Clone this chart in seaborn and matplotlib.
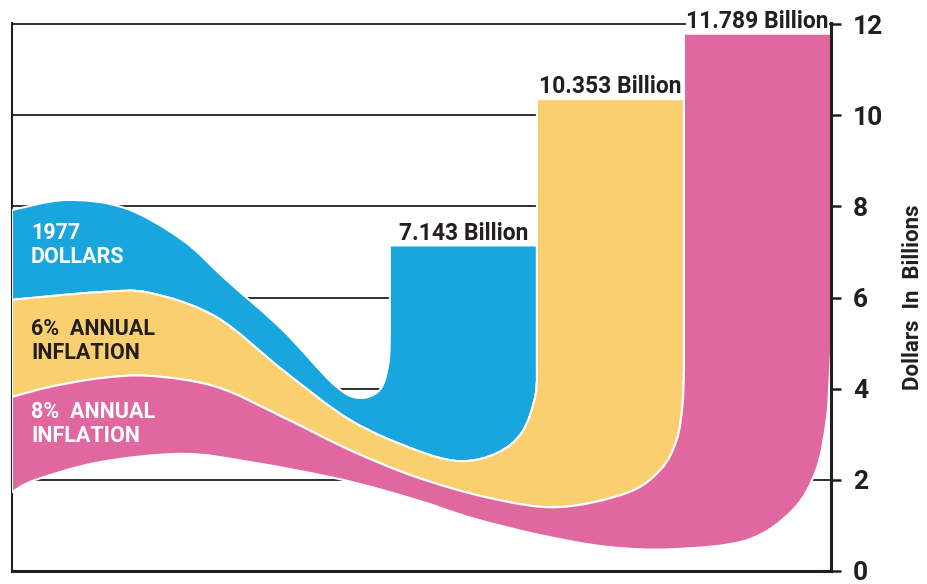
import numpy as np
import pandas as pd
import matplotlib.pyplot as plt
import seaborn as sns
from matplotlib.path import Path
from matplotlib.patches import PathPatch

# Bar data
scenarios = ["1977 DOLLARS", "6% ANNUAL INFLATION", "8% ANNUAL INFLATION"]
values = [7.143, 10.353, 11.789]
value_labels = ["7.143 Billion", "10.353 Billion", "11.789 Billion"]
band_labels = ["1977\nDOLLARS", "6%  ANNUAL\nINFLATION", "8%  ANNUAL\nINFLATION"]
colors = ["#19a5de", "#f9cf6f", "#e0679f"]
label_colors = ["white", "#231f20", "white"]
yticks = [0, 2, 4, 6, 8, 10, 12]

# Decorative ribbon outlines (x in bar units, y in billions), left to right
blue_top = [[-3.07, 7.92], [-2.70, 8.14], [-2.30, 7.96], [-1.91, 7.26], [-1.61, 6.38],
            [-1.23, 5.29], [-0.89, 4.12], [-0.72, 3.80], [-0.57, 3.97], [-0.51, 4.56],
            [-0.50, 5.29]]
blue_yellow = [[-3.07, 5.95], [-2.47, 6.12], [-2.13, 6.10], [-1.68, 5.57], [-1.23, 4.41],
               [-0.77, 3.31], [-0.32, 2.65], [-0.02, 2.41], [0.23, 2.59], [0.40, 3.05],
               [0.49, 3.86], [0.50, 4.63]]
yellow_pink = [[-3.07, 3.82], [-2.81, 4.04], [-2.47, 4.23], [-2.13, 4.28], [-1.68, 4.04],
               [-1.23, 3.38], [-0.77, 2.65], [-0.32, 2.06], [0.18, 1.60], [0.64, 1.40],
               [1.11, 1.71], [1.34, 2.22], [1.45, 2.87], [1.49, 3.64], [1.50, 4.41]]
pink_bottom = [[-3.07, 1.73], [-2.91, 2.00], [-2.47, 2.39], [-1.91, 2.57], [-1.45, 2.39],
               [-0.82, 2.00], [-0.32, 1.56], [0.06, 1.16], [0.52, 0.79], [0.98, 0.53],
               [1.43, 0.48], [1.93, 0.68], [2.24, 1.34], [2.40, 2.22], [2.47, 3.31],
               [2.49, 4.19], [2.50, 4.85]]
edges = [blue_top, blue_yellow, yellow_pink, pink_bottom]
label_pos = [(-2.94, 7.15), (-2.94, 5.05), (-2.94, 3.23)]


def smooth(pts):
    # Catmull-Rom through the points, as cubic bezier segments
    p = np.asarray(pts, float)
    ext = np.vstack([p[0], p, p[-1]])
    verts, codes = [], []
    for i in range(len(p) - 1):
        a, b, c, d = ext[i], ext[i + 1], ext[i + 2], ext[i + 3]
        verts += [b + (c - a) / 6, c - (d - b) / 6, c]
        codes += [Path.CURVE4] * 3
    return verts, codes


def band_path(top, bottom, x0, x1, h):
    verts, codes = [top[0]], [Path.MOVETO]
    v, c = smooth(top)
    verts += v
    codes += c
    verts += [(x0, h), (x1, h), (x1, bottom[-1][1])]
    codes += [Path.LINETO] * 3
    v, c = smooth(bottom[::-1])
    verts += v
    codes += c
    verts.append(top[0])
    codes.append(Path.CLOSEPOLY)
    return Path(verts, codes)


sns.set_style("white")
plt.rcParams["font.family"] = ["Roboto", "DejaVu Sans"]
plt.rcParams["font.weight"] = "bold"

df = pd.DataFrame({"scenario": scenarios, "value": values})

fig = plt.figure(figsize=(9.28, 5.84), dpi=100)
ax = fig.add_axes([12 / 928, 13 / 584, 819 / 928, 548.3 / 584])

sns.barplot(data=df, x="scenario", y="value", hue="scenario", palette=colors,
            width=1.0, saturation=1, legend=False, ax=ax,
            edgecolor="white", linewidth=1.5)

bars = sorted(ax.patches, key=lambda p: p.get_x())
for i, bar in enumerate(bars):
    x0 = bar.get_x()
    x1 = x0 + bar.get_width()
    h = bar.get_height()
    band = PathPatch(band_path(edges[i], edges[i + 1], x0, x1, h),
                     facecolor=colors[i], edgecolor="white", lw=1.5, zorder=2 + i * 0.01)
    ax.add_patch(band)
    bar.set_clip_path(band)
    bar.set_zorder(2)
    tx, ty = label_pos[i]
    ax.text(tx, ty, band_labels[i], color=label_colors[i], fontsize=15.5,
            fontweight="bold", ha="left", va="center", linespacing=1.15, zorder=3)

for i, cont in enumerate(ax.containers):
    txts = ax.bar_label(cont, labels=[value_labels[i]], padding=0.5, fontsize=16.5,
                        fontweight="bold", color="#231f20")
    for t in txts:
        t.set_zorder(1.5)
        if i == 2:
            t.set_bbox(dict(facecolor="white", edgecolor="none", pad=0.5))

ax.set_xlim(-3.07, 2.5)
ax.set_ylim(0, 12.03)
ax.set_xticks([])
ax.set_xlabel("")
ax.set_yticks(yticks)
ax.yaxis.tick_right()
ax.yaxis.set_label_position("right")
ax.tick_params(axis="y", direction="out", length=7, width=1.8, pad=9,
               labelsize=19, colors="#231f20")
ax.set_ylabel("Dollars  In  Billions", fontsize=16, fontweight="bold",
              color="#231f20", labelpad=13)

ax.yaxis.grid(True, color="#231f20", lw=1.3)
ax.xaxis.grid(False)
ax.set_axisbelow(True)

ax.spines["top"].set_visible(False)
ax.spines["left"].set_color("#231f20")
ax.spines["left"].set_linewidth(1.5)
ax.spines["left"].set_zorder(0.6)
for side in ["right", "bottom"]:
    ax.spines[side].set_color("#231f20")
    ax.spines[side].set_linewidth(2.2)
    ax.spines[side].set_zorder(4)

fig.savefig("out.png", dpi=100, facecolor="white")
